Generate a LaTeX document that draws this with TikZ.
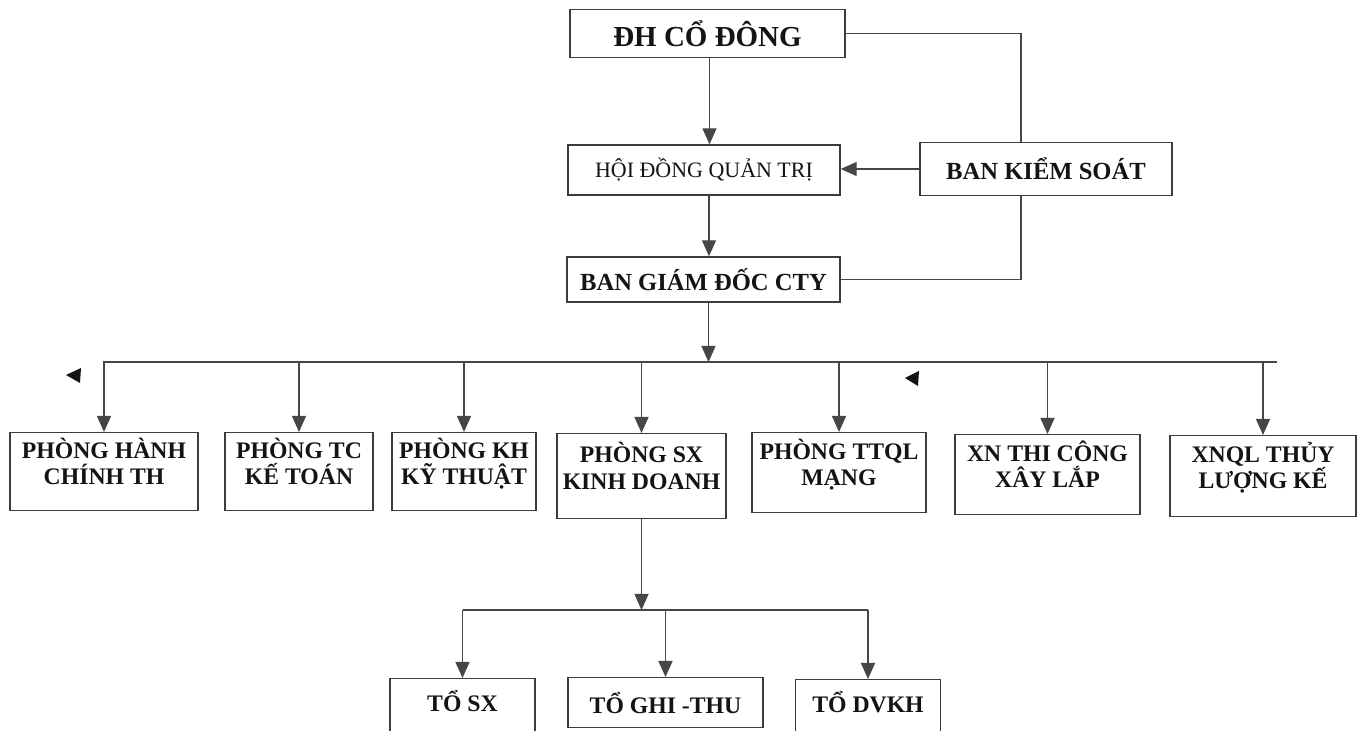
\documentclass[tikz,border=0pt]{standalone}
\usepackage{fontspec}
\setmainfont{Liberation Serif}
\usetikzlibrary{arrows.meta}
\definecolor{boxline}{RGB}{60,60,60}
\definecolor{linkgray}{RGB}{70,70,70}
\definecolor{inkdark}{RGB}{20,20,20}

\begin{document}
\begin{tikzpicture}[x=1cm,y=1cm,>={Triangle[width=0.28cm,length=0.32cm]},
  unit/.style={draw=boxline,line width=0.8pt,fill=white,align=center,
    inner sep=1pt,text=inkdark,font=\bfseries\fontsize{13.5}{15}\selectfont},
  link/.style={draw=linkgray,line width=0.7pt}]
  % Scanned page ~1365x731 px (1px = 0.02cm)
  \clip (0,0) rectangle (27.3,-14.62);
  \fill[white] (0,0) rectangle (27.3,-14.62);

  % --- Governing bodies ---
  \node[unit,minimum width=5.5cm,minimum height=0.96cm,
    font=\bfseries\fontsize{16.5}{18}\selectfont] (dhcd) at (14.15,-0.67) {ĐH CỔ ĐÔNG};
  \node[unit,minimum width=5.44cm,minimum height=1.0cm,
    font=\fontsize{12.5}{14}\selectfont] (hdqt) at (14.08,-3.4) {HỘI ĐỒNG QUẢN TRỊ};
  \node[unit,minimum width=5.04cm,minimum height=1.06cm,
    font=\bfseries\fontsize{14}{16}\selectfont] (bks) at (20.92,-3.38) {BAN KIỂM SOÁT};
  \node[unit,minimum width=5.46cm,minimum height=0.9cm,
    font=\bfseries\fontsize{14}{16}\selectfont] (bgd) at (14.07,-5.59) {BAN GIÁM ĐỐC CTY};

  \draw[link,->] ([xshift=0.04cm]dhcd.south) -- ([xshift=0.04cm]dhcd.south |- hdqt.north);
  \draw[link,->] ([xshift=0.1cm]hdqt.south) -- ([xshift=0.1cm]hdqt.south |- bgd.north);
  \draw[link,->] (bks.west) -- (bks.west -| hdqt.east);
  % supervision line around the right side
  \draw[link] (dhcd.east) -| ([xshift=-0.5cm]bks.north);
  \draw[link] ([xshift=-0.5cm]bks.south) |- (bgd.east);

  % --- Departments ---
  \coordinate (busL) at (2.06,-7.24);
  \coordinate (busR) at (25.54,-7.24);
  \draw[link] (busL) -- (busR);
  \draw[link,->] ([xshift=0.1cm]bgd.south) -- ([xshift=0.1cm]bgd.south |- busL);

  \tikzset{dept/.style={unit,anchor=north,text depth=0.42cm}}
  \node[dept,minimum width=3.76cm,minimum height=1.56cm] (hanh) at (2.08,-8.64) {PHÒNG HÀNH\\CHÍNH TH};
  \node[dept,minimum width=2.96cm,minimum height=1.56cm] (tc) at (5.98,-8.64) {PHÒNG TC\\KẾ TOÁN};
  \node[dept,minimum width=2.88cm,minimum height=1.56cm] (kh) at (9.28,-8.64) {PHÒNG KH\\KỸ THUẬT};
  \node[dept,minimum width=3.38cm,minimum height=1.7cm] (sx) at (12.83,-8.66) {PHÒNG SX\\KINH DOANH};
  \node[dept,minimum width=3.48cm,minimum height=1.6cm] (ttql) at (16.78,-8.64) {PHÒNG TTQL\\MẠNG};
  \node[dept,minimum width=3.7cm,minimum height=1.6cm] (xn) at (20.95,-8.68) {XN THI CÔNG\\XÂY LẮP};
  \node[dept,minimum width=3.72cm,minimum height=1.62cm] (xnql) at (25.26,-8.7) {XNQL THỦY\\LƯỢNG KẾ};

  \foreach \d in {hanh,tc,kh,sx,ttql,xn,xnql}
    \draw[link,->] (\d.north |- busL) -- (\d.north);

  % stray arrow marks on the scan
  \fill[inkdark] (1.32,-7.5) -- (1.62,-7.36) -- (1.6,-7.66) -- cycle;
  \fill[inkdark] (18.1,-7.56) -- (18.38,-7.42) -- (18.36,-7.72) -- cycle;

  % --- Teams under PHÒNG SX ---
  \coordinate (subL) at (9.25,-12.2);
  \coordinate (subR) at (17.36,-12.2);
  \draw[link] (subL) -- (subR);
  \draw[link,->] (sx.south) -- (sx.south |- subL);

  \node[unit,anchor=north,minimum width=2.9cm,minimum height=1.4cm,text depth=0.5cm] (tosx) at (9.25,-13.56) {TỔ SX};
  \node[unit,anchor=north,minimum width=3.9cm,minimum height=1.0cm] (toghi) at (13.31,-13.54) {TỔ GHI -THU};
  \node[unit,anchor=north,minimum width=2.9cm,minimum height=1.4cm,text depth=0.5cm] (todv) at (17.36,-13.58) {TỔ DVKH};

  \foreach \t in {tosx,toghi,todv}
    \draw[link,->] (\t.north |- subL) -- (\t.north);

\end{tikzpicture}
\end{document}
